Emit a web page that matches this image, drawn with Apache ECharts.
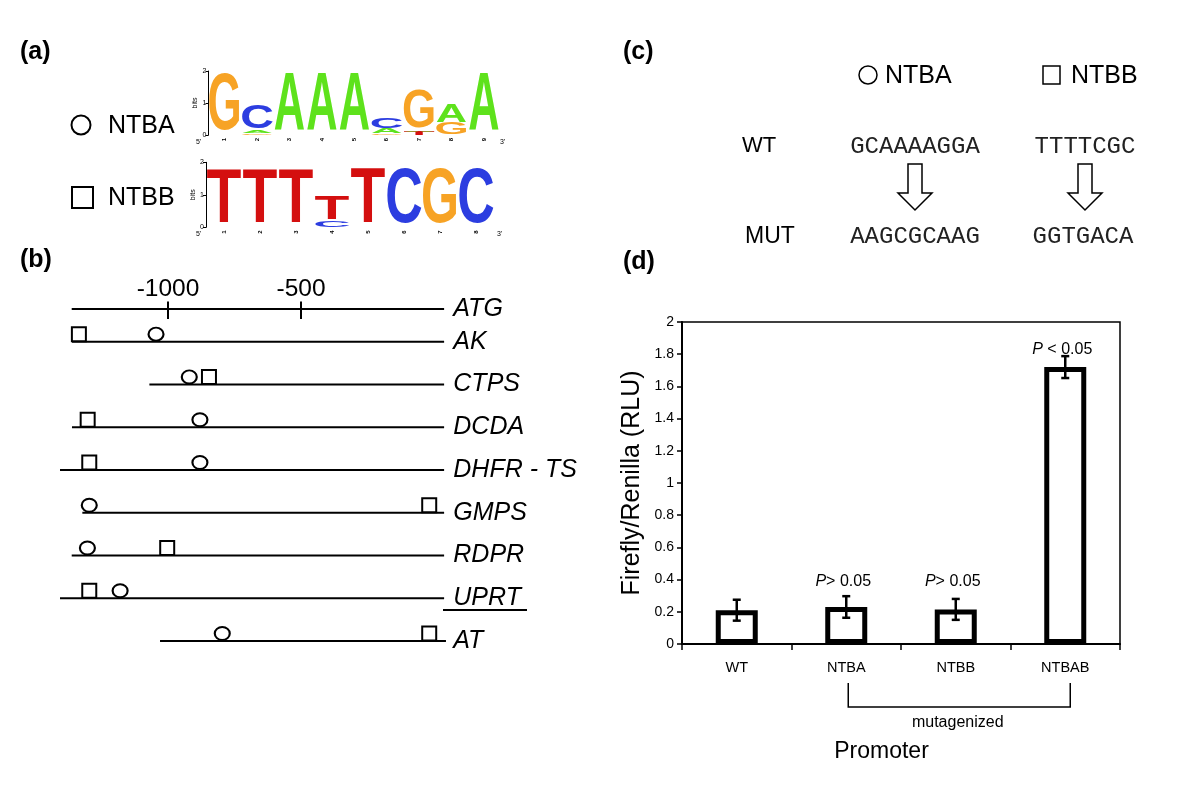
<!DOCTYPE html>
<html><head><meta charset="utf-8">
<script src="https://cdn.jsdelivr.net/npm/echarts@6/dist/echarts.min.js"></script>
<style>html,body{margin:0;padding:0;background:#fff}#c{width:1200px;height:789px}</style>
</head><body><div id="c"></div>
<script>
// ---------- Panel (a): sequence logos, stacks listed bottom -> top, [letter, bits]
const logoNTBA = [
  [['G', 1.80]],
  [['G', 0.05], ['A', 0.08], ['C', 0.75]],
  [['A', 1.82]],
  [['A', 1.82]],
  [['A', 1.82]],
  [['G', 0.05], ['A', 0.15], ['C', 0.32]],
  [['T', 0.10], ['A', 0.03], ['G', 1.20]],
  [['G', 0.36], ['A', 0.58]],
  [['A', 1.82]]
];
const logoNTBB = [
  [['T', 1.69]],
  [['T', 1.69]],
  [['T', 1.69]],
  [['C', 0.19], ['T', 0.72]],
  [['T', 1.70]],
  [['C', 1.72]],
  [['G', 1.72]],
  [['C', 1.72]]
];
const logoTicks = [0, 1, 2];

// ---------- Panel (b): promoter maps (bp relative to ATG)
const scaleLine = [-1362, 38];
const scaleTicks = [-1000, -500];
const geneNames = ['AK', 'CTPS', 'DCDA', 'DHFR - TS', 'GMPS', 'RDPR', 'UPRT', 'AT'];
const geneStart = [-1361, -1070, -1361, -1406, -1322, -1362, -1406, -1030];
const geneEnd = [38, 38, 38, 38, 38, 38, 38, 45];
const ntbaSites = [-1045, -920, -880, -880, -1296, -1303, -1180, -796];
const ntbbSites = [-1335, -846, -1302, -1296, -18, -1003, -1296, -18];

// ---------- Panel (c): mutated sequences
const motifNames = ['NTBA', 'NTBB'];
const wtSeqs = ['GCAAAAGGA', 'TTTTCGC'];
const mutSeqs = ['AAGCGCAAG', 'GGTGACA'];

// ---------- Panel (d): luciferase assay
const promoters = ['WT', 'NTBA', 'NTBB', 'NTBAB'];
const ratio = [0.21, 0.23, 0.215, 1.72];
const ratioErr = [0.065, 0.067, 0.065, 0.068];
const pText = ['', '> 0.05', '> 0.05', ' < 0.05'];
const pLabelY = [null, 0.39, 0.39, 1.83];
const bracketFromTo = ['NTBA', 'NTBAB'];

const FONT = 'Liberation Sans';
const letterColor = { A: '#5ee21c', C: '#2c3de0', G: '#f7a325', T: '#d40f0f' };
const letterInk = { A: 0.71, C: 0.66, G: 0.70, T: 0.60 };

function flattenLogo(logo) {
  const out = [];
  logo.forEach((stack, i) => {
    let base = 0;
    stack.forEach(([L, h]) => { out.push({ value: [i, base, base + h], letter: L }); base += h; });
  });
  return out;
}
const dataA = flattenLogo(logoNTBA);
const dataB = flattenLogo(logoNTBB);

function logoRender(data) {
  return function (params, api) {
    const it = data[params.dataIndex];
    const L = it.letter;
    const p0 = api.coord([api.value(0), api.value(1)]);
    const p1 = api.coord([api.value(0), api.value(2)]);
    const bw = api.size([1, 0])[0];
    const h = p0[1] - p1[1];
    if (h < 0.4) return null;
    const base = 100, cap = 71.6;
    const sx = bw * 0.95 / (letterInk[L] * base);
    const sy = h / cap;
    return {
      type: 'text', x: p0[0], y: (p0[1] + p1[1]) / 2 + 1.15 * sy, scaleX: sx, scaleY: sy,
      style: { text: L, fontSize: base, fontWeight: 'bold', fontFamily: FONT, fill: letterColor[L], align: 'center', verticalAlign: 'middle' }
    };
  };
}

function logoAxes(n, gridIndex) {
  return {
    x: {
      type: 'category', gridIndex, data: Array.from({ length: n }, (_, i) => String(i + 1)),
      axisLine: { show: false }, axisTick: { show: false },
      axisLabel: { rotate: 90, fontSize: 6, margin: 3, color: '#000', fontFamily: FONT, fontWeight: 'bold' }
    },
    y: {
      type: 'value', gridIndex, min: logoTicks[0], max: logoTicks[logoTicks.length - 1], interval: 1,
      splitLine: { show: false },
      axisLine: { show: true, lineStyle: { color: '#000', width: 1 } },
      axisTick: { show: true, length: 3, lineStyle: { color: '#000' } },
      axisLabel: { fontSize: 7, margin: 2, color: '#000', fontFamily: FONT },
      name: 'bits', nameLocation: 'middle', nameGap: 9, nameTextStyle: { fontSize: 7, color: '#000', fontFamily: FONT }
    }
  };
}
const la = logoAxes(logoNTBA.length, 0), lb = logoAxes(logoNTBB.length, 1);

const hiddenX = (gi) => ({ type: 'value', gridIndex: gi, min: -1450, max: 50, show: false });

const boldLabel = (t, x, y) => ({ type: 'text', x, y, style: { text: t, fontSize: 25, fontWeight: 'bold', fontFamily: FONT, fill: '#000', verticalAlign: 'middle' } });
const plainText = (t, x, y, fs, align, family, color) => ({ type: 'text', x, y, style: { text: t, fontSize: fs, fontFamily: family || FONT, fill: color || '#000', align: align || 'left', verticalAlign: 'middle' } });
const arrow = (cx) => ({
  type: 'polygon', shape: { points: [[cx - 7, 164], [cx + 7, 164], [cx + 7, 193], [cx + 17, 193], [cx, 210], [cx - 17, 193], [cx - 7, 193]] },
  style: { fill: '#fff', stroke: '#000', lineWidth: 1.5 }
});

const MONO = 'Liberation Mono';
const graphics = [
  boldLabel('(a)', 20, 52), boldLabel('(b)', 20, 260), boldLabel('(c)', 623, 52), boldLabel('(d)', 623, 262),
  // panel (a) legend
  { type: 'circle', shape: { cx: 81, cy: 125, r: 9.5 }, style: { fill: '#fff', stroke: '#000', lineWidth: 2 } },
  plainText(motifNames[0], 108, 126, 25),
  { type: 'rect', shape: { x: 72, y: 187, width: 21, height: 21 }, style: { fill: '#fff', stroke: '#000', lineWidth: 2 } },
  plainText(motifNames[1], 108, 198, 25),
  plainText("5'", 196, 142, 7), plainText("3'", 500, 142, 7),
  plainText("5'", 196, 234, 7), plainText("3'", 497, 234, 7),
  // UPRT underline
  { type: 'line', shape: { x1: 443, y1: 610, x2: 527, y2: 610 }, style: { stroke: '#000', lineWidth: 2 } },
  // panel (c)
  { type: 'circle', shape: { cx: 868, cy: 75, r: 9 }, style: { fill: '#fff', stroke: '#000', lineWidth: 1.5 } },
  plainText(motifNames[0], 885, 76, 25),
  { type: 'rect', shape: { x: 1043, y: 66, width: 17, height: 18 }, style: { fill: '#fff', stroke: '#000', lineWidth: 1.5 } },
  plainText(motifNames[1], 1071, 76, 25),
  plainText('WT', 742, 146, 22), plainText('MUT', 745, 237, 23),
  plainText(wtSeqs[0], 915, 147, 24, 'center', MONO, '#222'),
  plainText(wtSeqs[1], 1085, 147, 24, 'center', MONO, '#222'),
  plainText(mutSeqs[0], 915, 237, 24, 'center', MONO, '#222'),
  plainText(mutSeqs[1], 1083, 237, 24, 'center', MONO, '#222'),
  arrow(915), arrow(1085)
];

const option = {
  backgroundColor: '#fff',
  animation: false,
  grid: [
    { left: 208.5, top: 71, width: 291.6, height: 64, outerBoundsMode: 'none' },
    { left: 206, top: 162.3, width: 288, height: 65, outerBoundsMode: 'none' },
    { left: 48.3, top: 299, width: 399, height: 20, outerBoundsMode: 'none' },
    { left: 48.3, top: 320.3, width: 399, height: 342.1, outerBoundsMode: 'none' },
    { left: 682, top: 322, width: 438, height: 322, show: true, borderColor: '#000', borderWidth: 1.5, backgroundColor: 'transparent', outerBoundsMode: 'none' }
  ],
  xAxis: [
    la.x, lb.x, hiddenX(2), hiddenX(3),
    {
      type: 'category', gridIndex: 4, data: promoters,
      axisLine: { lineStyle: { color: '#000', width: 2 } },
      axisTick: { show: true, length: 6, lineStyle: { color: '#000', width: 1.5 } },
      axisLabel: { color: '#000', fontSize: 14.5, fontFamily: FONT, margin: 16 },
      name: 'Promoter', nameLocation: 'middle', nameGap: 96,
      nameTextStyle: { fontSize: 23, color: '#000', fontFamily: FONT, padding: [0, 39, 0, 0] }
    }
  ],
  yAxis: [
    la.y, lb.y,
    { type: 'category', gridIndex: 2, data: ['ATG'], position: 'right', axisLine: { show: false }, axisTick: { show: false },
      axisLabel: { fontSize: 25, fontStyle: 'italic', fontFamily: FONT, color: '#000', margin: 6 } },
    { type: 'category', gridIndex: 3, data: geneNames, inverse: true, position: 'right', axisLine: { show: false }, axisTick: { show: false },
      axisLabel: { fontSize: 25, fontStyle: 'italic', fontFamily: FONT, color: '#000', margin: 6 } },
    {
      type: 'value', gridIndex: 4, min: 0, max: 2, interval: 0.2,
      splitLine: { show: false },
      axisLine: { show: true, lineStyle: { color: '#000', width: 2 } },
      axisTick: { show: true, length: 5, lineStyle: { color: '#000', width: 1.5 } },
      axisLabel: { color: '#000', fontSize: 14, fontFamily: FONT, margin: 8 },
      name: 'Firefly/Renilla (RLU)', nameLocation: 'middle', nameGap: 37,
      nameTextStyle: { fontSize: 25, color: '#000', fontFamily: FONT }
    }
  ],
  series: [
    { type: 'custom', xAxisIndex: 0, yAxisIndex: 0, data: dataA.map(d => d.value), renderItem: logoRender(dataA) },
    { type: 'custom', xAxisIndex: 1, yAxisIndex: 1, data: dataB.map(d => d.value), renderItem: logoRender(dataB) },
    // panel (b) scale line
    { type: 'custom', xAxisIndex: 2, yAxisIndex: 2, data: [[scaleLine[0], scaleLine[1], 0]],
      renderItem: (p, api) => {
        const a = api.coord([api.value(0), 0]), b = api.coord([api.value(1), 0]);
        return { type: 'line', shape: { x1: a[0], y1: a[1], x2: b[0], y2: b[1] }, style: { stroke: '#000', lineWidth: 2 } };
      } },
    { type: 'custom', xAxisIndex: 2, yAxisIndex: 2, data: scaleTicks.map(v => [v, 0]),
      renderItem: (p, api) => {
        const a = api.coord([api.value(0), 0]);
        return { type: 'group', children: [
          { type: 'line', shape: { x1: a[0], y1: a[1] - 7.5, x2: a[0], y2: a[1] + 10 }, style: { stroke: '#000', lineWidth: 2 } },
          { type: 'text', x: a[0], y: a[1] - 20, style: { text: String(api.value(0)), fontSize: 24.5, fontFamily: FONT, fill: '#000', align: 'center', verticalAlign: 'middle' } }
        ] };
      } },
    // panel (b) gene lines
    { type: 'custom', xAxisIndex: 3, yAxisIndex: 3, data: geneNames.map((g, i) => [geneStart[i], geneEnd[i], i]),
      renderItem: (p, api) => {
        const a = api.coord([api.value(0), api.value(2)]), b = api.coord([api.value(1), api.value(2)]);
        return { type: 'line', shape: { x1: a[0], y1: a[1], x2: b[0], y2: b[1] }, style: { stroke: '#000', lineWidth: 2 } };
      } },
    { type: 'scatter', xAxisIndex: 3, yAxisIndex: 3, data: ntbaSites.map((v, i) => [v, i]), symbol: 'circle', symbolSize: [15, 13], symbolOffset: [0, -7.5],
      itemStyle: { color: '#fff', borderColor: '#000', borderWidth: 2, opacity: 1 }, z: 5 },
    { type: 'scatter', xAxisIndex: 3, yAxisIndex: 3, data: ntbbSites.map((v, i) => [v, i]), symbol: 'rect', symbolSize: [14, 14], symbolOffset: [0, -7.5],
      itemStyle: { color: '#fff', borderColor: '#000', borderWidth: 2, opacity: 1 }, z: 5 },
    // panel (d) bars
    { type: 'bar', xAxisIndex: 4, yAxisIndex: 4, data: ratio, barWidth: 42,
      itemStyle: { color: '#fff', borderColor: '#000', borderWidth: 5 } },
    { type: 'custom', xAxisIndex: 4, yAxisIndex: 4, data: ratio.map((v, i) => [i, v - ratioErr[i], v + ratioErr[i]]), z: 10,
      renderItem: (p, api) => {
        const lo = api.coord([api.value(0), api.value(1)]), hi = api.coord([api.value(0), api.value(2)]);
        const s = { stroke: '#000', lineWidth: 2.5 };
        return { type: 'group', children: [
          { type: 'line', shape: { x1: lo[0], y1: lo[1], x2: hi[0], y2: hi[1] }, style: s },
          { type: 'line', shape: { x1: lo[0] - 4, y1: lo[1], x2: lo[0] + 4, y2: lo[1] }, style: s },
          { type: 'line', shape: { x1: hi[0] - 4, y1: hi[1], x2: hi[0] + 4, y2: hi[1] }, style: s }
        ] };
      } },
    { type: 'custom', xAxisIndex: 4, yAxisIndex: 4, z: 11,
      data: promoters.map((c, i) => [i, pLabelY[i]]).filter(d => d[1] != null),
      renderItem: (p, api) => {
        const i = api.value(0);
        const c = api.coord([i, api.value(1)]);
        return { type: 'text', x: c[0] - 3, y: c[1], style: { text: '{i|P}' + pText[i], fontSize: 16, fontFamily: FONT, fill: '#000', align: 'center', verticalAlign: 'middle',
          rich: { i: { fontStyle: 'italic', fontSize: 16, fontFamily: FONT, fill: '#000' } } } };
      } },
    { type: 'custom', xAxisIndex: 4, yAxisIndex: 4, z: 11,
      data: [[promoters.indexOf(bracketFromTo[0]), promoters.indexOf(bracketFromTo[1])]],
      renderItem: (p, api) => {
        const a = api.coord([api.value(0), 0]), b = api.coord([api.value(1), 0]);
        const y1 = a[1] + 39, y2 = a[1] + 63;
        const s = { stroke: '#000', lineWidth: 1.5, fill: null };
        return { type: 'group', children: [
          { type: 'polyline', shape: { points: [[a[0] + 2, y1], [a[0] + 2, y2], [b[0] + 5, y2], [b[0] + 5, y1]] }, style: s },
          { type: 'text', x: (a[0] + b[0]) / 2 + 2, y: a[1] + 79, style: { text: 'mutagenized', fontSize: 16, fontFamily: FONT, fill: '#000', align: 'center', verticalAlign: 'middle' } }
        ] };
      } }
  ],
  graphic: graphics
};

const chart = echarts.init(document.getElementById('c'), null, { renderer: 'canvas' });
chart.setOption(option);
</script>
</body></html>
